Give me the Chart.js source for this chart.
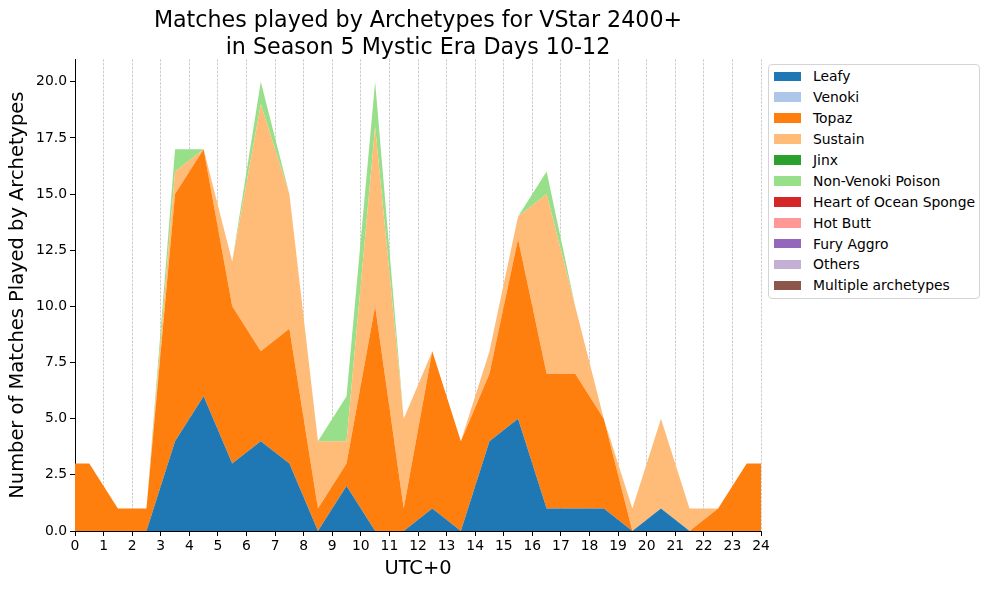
<!DOCTYPE html>
<html><head><meta charset="utf-8">
<script src="https://cdn.jsdelivr.net/npm/chart.js@4.4.0/dist/chart.umd.min.js"></script>
<style>
body{margin:0;background:#fff;font-family:'DejaVu Sans',sans-serif;}
#wrap{position:relative;width:990px;height:590px;}
#legend{position:absolute;left:768px;top:64px;width:212px;height:235px;box-sizing:border-box;border:1px solid #d4d4d4;border-radius:4px;padding:1px 0 0 5px;background:#fff;}
.item{display:flex;align-items:center;height:20.9px;font-size:13.9px;color:#000;white-space:nowrap;}
.sw{width:27px;height:9.7px;margin-right:12px;flex:none;}
</style></head><body>
<div id="wrap"><canvas id="c" width="990" height="590"></canvas><div id="legend"></div></div>
<script>
const FONT = "'DejaVu Sans', sans-serif";
const titleLines = ["Matches played by Archetypes for VStar 2400+", "in Season 5 Mystic Era Days 10-12"];
const xLabel = "UTC+0";
const yLabel = "Number of Matches Played by Archetypes";

const hours = [0, 0.5, 1.5, 2.5, 3.5, 4.5, 5.5, 6.5, 7.5, 8.5, 9.5, 10.5, 11.5, 12.5, 13.5, 14.5, 15.5, 16.5, 17.5, 18.5, 19.5, 20.5, 21.5, 22.5, 23.5, 24];
const xTicks = [0,1,2,3,4,5,6,7,8,9,10,11,12,13,14,15,16,17,18,19,20,21,22,23,24];

const archetypes = ["Leafy","Venoki","Topaz","Sustain","Jinx","Non-Venoki Poison","Heart of Ocean Sponge","Hot Butt","Fury Aggro","Others","Multiple archetypes"];
const colors = ["#1f77b4","#aec7e8","#ff7f0e","#ffbb78","#2ca02c","#98df8a","#d62728","#ff9896","#9467bd","#c5b0d5","#8c564b"];

const leafy    = [0,0,0,0,4,6,3,4,3,0,2,0,0,1,0,4,5,1,1,1,0,1,0,0,0,0];
const venoki   = [0,0,0,0,0,0,0,0,0,0,0,0,0,0,0,0,0,0,0,0,0,0,0,0,0,0];
const topaz    = [3,3,1,1,11,11,7,4,6,1,1,10,1,7,4,3,8,6,6,4,0,0,0,1,3,3];
const sustain  = [0,0,0,0,1,0,2,11,6,3,1,8,4,0,0,1,1,8,3,0,1,4,1,0,0,0];
const jinx     = [0,0,0,0,0,0,0,0,0,0,0,0,0,0,0,0,0,0,0,0,0,0,0,0,0,0];
const nonVenokiPoison = [0,0,0,0,1,0,0,1,0,0,2,2,0,0,0,0,0,1,0,0,0,0,0,0,0,0];
const heartOfOceanSponge = [0,0,0,0,0,0,0,0,0,0,0,0,0,0,0,0,0,0,0,0,0,0,0,0,0,0];
const hotButt  = [0,0,0,0,0,0,0,0,0,0,0,0,0,0,0,0,0,0,0,0,0,0,0,0,0,0];
const furyAggro= [0,0,0,0,0,0,0,0,0,0,0,0,0,0,0,0,0,0,0,0,0,0,0,0,0,0];
const others   = [0,0,0,0,0,0,0,0,0,0,0,0,0,0,0,0,0,0,0,0,0,0,0,0,0,0];
const multiple = [0,0,0,0,0,0,0,0,0,0,0,0,0,0,0,0,0,0,0,0,0,0,0,0,0,0];

const series = [leafy, venoki, topaz, sustain, jinx, nonVenokiPoison, heartOfOceanSponge, hotButt, furyAggro, others, multiple];

const datasets = series.map((vals, i) => ({
  label: archetypes[i],
  data: hours.map((h, j) => ({x: h, y: vals[j]})),
  backgroundColor: colors[i],
  borderColor: 'rgba(0,0,0,0)',
  borderWidth: 0,
  pointRadius: 0,
  pointHoverRadius: 0,
  tension: 0,
  fill: i === 0 ? 'origin' : '-1'
}));

// HTML legend
const lg = document.getElementById('legend');
archetypes.forEach((name, i) => {
  const row = document.createElement('div'); row.className = 'item';
  const sw = document.createElement('span'); sw.className = 'sw'; sw.style.background = colors[i];
  const tx = document.createElement('span'); tx.textContent = name;
  row.appendChild(sw); row.appendChild(tx); lg.appendChild(row);
});

new Chart(document.getElementById('c'), {
  type: 'line',
  data: { datasets },
  options: {
    responsive: false,
    animation: false,
    devicePixelRatio: 1,
    layout: { padding: { left: 0, right: 229, top: 0, bottom: 0 } },
    plugins: {
      legend: { display: false },
      tooltip: { enabled: false },
      title: {
        display: true, text: titleLines, fullSize: false, color: '#000',
        font: { family: FONT, size: 22.2, weight: 'normal', lineHeight: 1.2 },
        padding: { top: 8, bottom: -2 }
      }
    },
    scales: {
      x: {
        type: 'linear', min: 0, max: 24, z: 1,
        afterBuildTicks: s => { s.ticks = xTicks.map(v => ({value: v})); },
        afterFit: s => { s.height = 59; },
        ticks: { color: '#000', font: { family: FONT, size: 13.9 }, padding: 2, maxRotation: 0, autoSkip: false },
        grid: { color: '#b8b8b8', lineWidth: 0.7, tickColor: '#000', tickLength: 5, tickWidth: 1, tickBorderDash: [] },
        border: { color: '#000', width: 1, dash: [2.6, 1.2] },
        title: { display: true, text: xLabel, color: '#000', font: { family: FONT, size: 19.44 }, padding: { top: 0, bottom: 9 } }
      },
      y: {
        stacked: true, min: 0, max: 21,
        afterFit: s => { s.width = 75; },
        ticks: { stepSize: 2.5, includeBounds: false, color: '#000', font: { family: FONT, size: 13.9 }, padding: 3,
                 callback: v => Number(v).toFixed(1) },
        grid: { drawOnChartArea: false, tickColor: '#000', tickLength: 5, tickWidth: 1 },
        border: { color: '#000', width: 1 },
        title: { display: true, text: yLabel, color: '#000', font: { family: FONT, size: 19.44 }, padding: { top: 6, bottom: 0 } }
      }
    }
  }
});
</script>
</body></html>
